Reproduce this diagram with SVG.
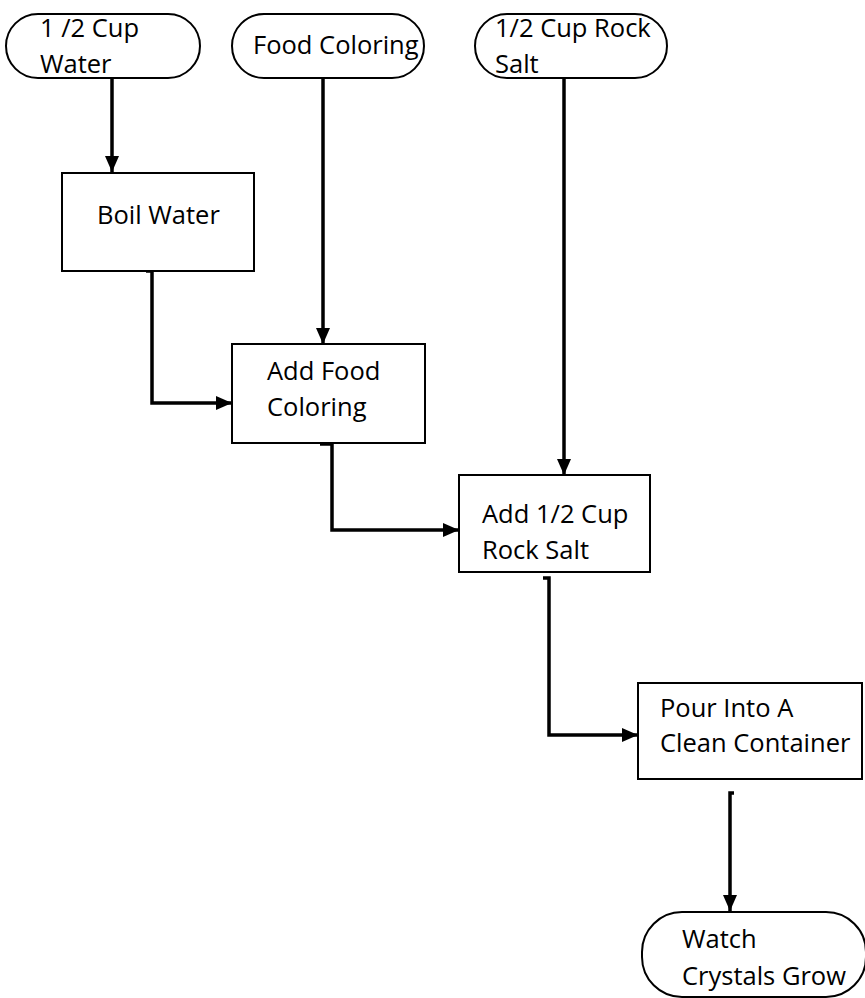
<svg xmlns="http://www.w3.org/2000/svg" width="865" height="998" viewBox="0 0 865 998">
<style>
  .node { fill: #ffffff; stroke: #000000; stroke-width: 2; }
  .conn { fill: none; stroke: #000000; stroke-width: 3.5; }
  text { font-family: "Open Sans", "Liberation Sans", sans-serif; font-size: 25.5px; fill: #000000; }
</style>
<defs>
  <marker id="arrow" markerUnits="userSpaceOnUse" markerWidth="16" markerHeight="14" refX="16" refY="7" orient="auto">
    <path d="M0,0 L16,7 L0,14 z" fill="#000000"/>
  </marker>
</defs>
<rect width="865" height="998" fill="#ffffff"/>
<g id="connectors">
  <path class="conn" d="M112,78 V172" marker-end="url(#arrow)"/>
  <path class="conn" d="M323,78 V344" marker-end="url(#arrow)"/>
  <path class="conn" d="M564,78 V475" marker-end="url(#arrow)"/>
  <path class="conn" d="M146,271 H152 V403 H232" marker-end="url(#arrow)"/>
  <path class="conn" d="M320,444 H332 V530 H459" marker-end="url(#arrow)"/>
  <path class="conn" d="M543,578 H549 V735 H638" marker-end="url(#arrow)"/>
  <path class="conn" d="M734,793 H730 V911" marker-end="url(#arrow)"/>
</g>
<g id="n-water">
  <rect class="node" x="6" y="14" width="194" height="64" rx="32" ry="32"/>
  <text x="40" y="37">1 /2 Cup</text>
  <text x="40" y="73">Water</text>
</g>
<g id="n-foodcoloring">
  <rect class="node" x="232" y="14" width="192" height="64" rx="32" ry="32"/>
  <text x="253" y="54">Food Coloring</text>
</g>
<g id="n-rocksalt">
  <rect class="node" x="475" y="14" width="192" height="64" rx="32" ry="32"/>
  <text x="495" y="37">1/2 Cup Rock</text>
  <text x="495" y="73">Salt</text>
</g>
<g id="n-boil">
  <rect class="node" x="62" y="173" width="192" height="98"/>
  <text x="97" y="224">Boil Water</text>
</g>
<g id="n-addfood">
  <rect class="node" x="232" y="344" width="193" height="99"/>
  <text x="267" y="380">Add Food</text>
  <text x="267" y="416">Coloring</text>
</g>
<g id="n-addsalt">
  <rect class="node" x="459" y="475" width="191" height="97"/>
  <text x="482" y="523">Add 1/2 Cup</text>
  <text x="482" y="559">Rock Salt</text>
</g>
<g id="n-pour">
  <rect class="node" x="638" y="683" width="224" height="96"/>
  <text x="660" y="717">Pour Into A</text>
  <text x="660" y="752">Clean Container</text>
</g>
<g id="n-watch">
  <rect class="node" x="642" y="912" width="224" height="85" rx="40" ry="40"/>
  <text x="682" y="948">Watch</text>
  <text x="682" y="985">Crystals Grow</text>
</g>
</svg>
